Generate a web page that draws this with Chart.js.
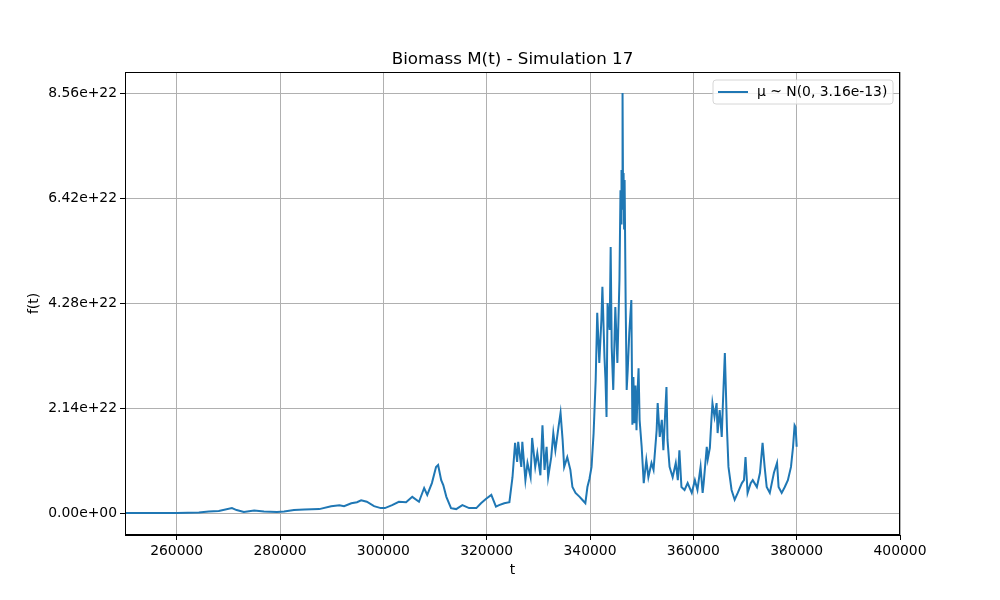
<!DOCTYPE html>
<html>
<head>
<meta charset="utf-8">
<script src="https://cdn.jsdelivr.net/npm/chart.js@4"></script>
<style>
  html, body { margin: 0; padding: 0; background: #fff; }
  #wrap { width: 1000px; height: 600px; }
</style>
</head>
<body>
<div id="wrap"><canvas id="lineChart" width="1000" height="600"></canvas></div>
<script>
// data (t, biomass in units of 1e22)
const tValues = [
    250000, 254600, 260000, 264300, 266200, 268150, 270700, 271600, 273000, 275000,
    276900, 279400, 280800, 282700, 284700, 287600, 289900, 291500, 292400, 293800,
    294900, 295700, 296800, 298200, 299500, 300300, 301700, 303000, 304400, 305600,
    306900, 307900, 308500, 309400, 310200, 310600, 311200, 311600, 312200, 313100,
    314100, 315300, 316600, 318000, 318900, 319900, 320900, 321800,
    322400, 323400, 324400, 325000, 325500, 325900, 326100, 326700, 326900, 327500,
    327900, 328500, 328800, 329400, 329800, 330400, 330800, 331200, 331600, 331900,
    332500, 332900, 333300, 333900, 334300, 334700, 335000, 335600, 336200, 336600,
    337200, 338000, 338500, 339100, 339500, 339900, 340300, 340700, 341100, 341400,
    341800, 342200, 342400, 342800, 343000, 343200, 343400, 343800, 344000, 344200,
    344500, 344900, 345300, 345700, 345900, 346000, 346100, 346200, 346300, 346400,
    346500, 346600, 346700, 346900, 347100, 347300, 347600, 348000, 348200, 348400,
    348600, 348800, 349000, 349200, 349400, 349600, 350000, 350400, 350900, 351300,
    351900, 352300, 352900, 353100, 353500, 353900, 354200, 354800, 355000, 355400,
    356000, 356600, 357000, 357300, 357700, 358300, 358900, 359700, 360300, 360800,
    361400, 361800, 362000, 362600, 362800, 363200, 363500, 363700, 364100, 364500,
    364700, 365100, 365500, 365700, 366100, 366300, 366500, 366800, 367400, 368000,
    368600, 369400, 369800, 370100, 370500, 371100, 371500, 372300, 372900, 373400,
    373800, 374200, 374800, 375600, 376200, 376500, 377100, 377700, 378300, 378900,
    379300, 379600, 379800, 380000
];
const biomass = [
    0, 0, 0, 0.01, 0.03, 0.04, 0.10, 0.06, 0.02, 0.05,
    0.03, 0.02, 0.03, 0.06, 0.07, 0.08, 0.14, 0.16, 0.14, 0.20,
    0.22, 0.26, 0.23, 0.14, 0.10, 0.10, 0.16, 0.23, 0.22, 0.33,
    0.23, 0.51, 0.37, 0.61, 0.94, 0.98, 0.67, 0.57, 0.33, 0.10,
    0.08, 0.16, 0.10, 0.10, 0.20, 0.29, 0.37, 0.13,
    0.16, 0.20, 0.22, 0.73, 1.43, 1.04, 1.45, 0.94, 1.45, 0.67,
    1.02, 0.73, 1.53, 0.94, 1.22, 0.77, 1.79, 0.88, 1.35, 0.73,
    1.14, 1.63, 1.28, 1.75, 2.04, 1.49, 0.94, 1.14, 0.88, 0.53,
    0.41, 0.33, 0.27, 0.20, 0.53, 0.70, 0.94, 1.63, 2.71, 4.08,
    3.06, 3.93, 4.61, 3.18, 2.71, 1.96, 4.28, 3.73, 5.42, 3.38,
    2.51, 4.20, 3.06, 4.75, 6.58, 5.90, 6.99, 6.20, 8.56, 6.40,
    6.93, 5.80, 6.79, 4.30, 2.51, 2.91, 3.67, 4.34, 1.80, 2.77,
    1.83, 2.60, 1.69, 2.45, 2.95, 1.90, 1.35, 0.61, 1.08, 0.73,
    1.02, 0.88, 1.69, 2.24, 1.55, 1.90, 1.28, 2.57, 1.49, 0.94,
    0.73, 1.02, 0.67, 1.28, 0.53, 0.47, 0.61, 0.41, 0.67, 0.47,
    0.94, 0.41, 0.61, 1.35, 1.10, 1.33, 1.90, 2.24, 1.96, 2.24,
    1.63, 2.10, 1.55, 2.16, 3.26, 2.51, 1.75, 0.94, 0.47, 0.27,
    0.41, 0.61, 0.67, 1.14, 0.41, 0.61, 0.67, 0.53, 0.82, 1.43,
    0.94, 0.53, 0.41, 0.82, 1.02, 0.53, 0.41, 0.53, 0.67, 0.94,
    1.35, 1.79, 1.75, 1.35
];
const yUnit = 1e22;
const xTicks = [260000, 280000, 300000, 320000, 340000, 360000, 380000, 400000];
const yTicks = [0, 2.14e22, 4.28e22, 6.42e22, 8.56e22];
const yTickLabels = ['0.00e+00', '2.14e+22', '4.28e+22', '6.42e+22', '8.56e+22'];
const seriesLabel = 'μ ~ N(0, 3.16e-13)';
const titleText = 'Biomass M(t) - Simulation 17';

const FONT = 'DejaVu Sans';

// title, axis titles, frame and legend drawn like matplotlib
const decorPlugin = {
    id: 'decor',
    afterDraw(chart) {
        const { ctx, chartArea } = chart;
        const { left, right, top, bottom } = chartArea;
        ctx.save();
        ctx.strokeStyle = '#000';
        ctx.lineWidth = 1;
        ctx.strokeRect(left + 0.5, top + 0.5, right - left - 1, bottom - top - 1);

        ctx.fillStyle = '#000';
        ctx.textAlign = 'center';
        ctx.textBaseline = 'alphabetic';
        ctx.font = '16.7px "' + FONT + '"';
        ctx.fillText(titleText, (left + right) / 2, 64);

        ctx.font = '13.9px "' + FONT + '"';
        ctx.fillText('t', (left + right) / 2, 574);
        ctx.save();
        ctx.translate(38, (top + bottom) / 2);
        ctx.rotate(-Math.PI / 2);
        ctx.fillText('f(t)', 0, 0);
        ctx.restore();

        // legend box
        const bx = 713, by = 80, bw = 180, bh = 24, r = 3;
        ctx.beginPath();
        ctx.moveTo(bx + r, by);
        ctx.arcTo(bx + bw, by, bx + bw, by + bh, r);
        ctx.arcTo(bx + bw, by + bh, bx, by + bh, r);
        ctx.arcTo(bx, by + bh, bx, by, r);
        ctx.arcTo(bx, by, bx + bw, by, r);
        ctx.closePath();
        ctx.fillStyle = 'rgba(255,255,255,0.8)';
        ctx.fill();
        ctx.strokeStyle = '#d6d6d6';
        ctx.stroke();

        ctx.strokeStyle = '#1f77b4';
        ctx.lineWidth = 2;
        ctx.beginPath();
        ctx.moveTo(718, 92);
        ctx.lineTo(748, 92);
        ctx.stroke();

        ctx.fillStyle = '#000';
        ctx.textAlign = 'left';
        ctx.textBaseline = 'middle';
        ctx.font = '13.9px "' + FONT + '"';
        ctx.fillText(seriesLabel, 757, 92);
        ctx.restore();
    }
};

const ctx = document.getElementById('lineChart');

new Chart(ctx, {
    type: 'line',
    data: {
        datasets: [{
            label: seriesLabel,
            data: tValues.map((t, i) => ({ x: t, y: biomass[i] * yUnit })),
            borderColor: '#1f77b4',
            borderWidth: 2,
            pointRadius: 0,
            tension: 0,
            fill: false
        }]
    },
    options: {
        responsive: false,
        animation: false,
        layout: { padding: { top: 72, right: 100, left: 0, bottom: 0 } },
        plugins: {
            legend: { display: false },
            title: { display: false },
            tooltip: { enabled: false }
        },
        scales: {
            x: {
                type: 'linear',
                min: 250000,
                max: 400000,
                afterBuildTicks: scale => { scale.ticks = xTicks.map(v => ({ value: v })); },
                afterFit: scale => { scale.height = 65; },
                ticks: {
                    color: '#000',
                    font: { family: FONT, size: 13.9 },
                    padding: 3,
                    maxRotation: 0,
                    callback: v => String(v)
                },
                grid: { color: '#b0b0b0', lineWidth: 1, tickColor: '#000', tickLength: 5 },
                border: { display: true, color: '#000' }
            },
            y: {
                type: 'linear',
                min: -0.448e22,
                max: 8.99e22,
                afterBuildTicks: scale => { scale.ticks = yTicks.map(v => ({ value: v })); },
                afterFit: scale => { scale.width = 125; },
                ticks: {
                    color: '#000',
                    font: { family: FONT, size: 13.9 },
                    padding: 3,
                    callback: (v, i) => yTickLabels[i]
                },
                grid: { color: '#b0b0b0', lineWidth: 1, tickColor: '#000', tickLength: 5 },
                border: { display: true, color: '#000' }
            }
        }
    },
    plugins: [decorPlugin]
});
</script>
</body>
</html>
